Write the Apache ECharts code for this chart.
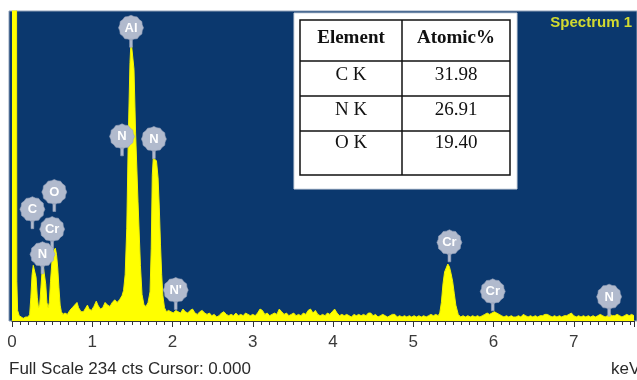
<!DOCTYPE html>
<html>
<head>
<meta charset="utf-8">
<script src="https://cdn.jsdelivr.net/npm/echarts@6/dist/echarts.min.js"></script>
<style>
html,body{margin:0;padding:0;background:#ffffff;}
#chart{width:637px;height:380px;}
</style>
</head>
<body>
<div id="chart"></div>
<script>
// ---- data ----
const xTicks = [0, 1, 2, 3, 4, 5, 6, 7];
const spectrumKeV = [
0.00,0.055,0.06,0.07,0.09,0.11,0.14,0.17,0.20,0.22,
0.235,0.25,0.265,0.285,0.30,0.315,0.33,0.345,
0.36,0.375,0.39,0.405,0.42,0.435,0.45,0.465,
0.48,0.50,0.52,0.54,0.555,0.57,0.585,0.60,0.615,0.635,0.66,0.69,0.72,0.75,0.78,0.81,0.83,0.86,0.89,0.92,0.94,0.96,0.99,1.02,1.05,1.07,1.10,1.13,1.16,1.19,1.22,1.25,1.28,1.31,1.34,1.37,1.39,1.41,
1.43,1.45,1.47,1.483,1.507,1.52,1.54,1.57,1.60,1.62,1.645,1.67,1.695,1.72,
1.735,1.748,1.76,1.78,1.80,1.82,1.835,1.85,1.865,1.88,1.90,1.925,1.95,1.98,2.01,2.04,2.07,2.10,2.13,2.16,2.19,2.22,2.25,2.28,2.31,2.34,2.37,2.40,2.43,2.46,2.49,2.52,2.55,2.58,2.61,2.64,2.67,2.70,2.73,2.76,2.79,2.82,2.85,2.88,2.91,2.94,2.97,3.00,3.03,3.06,3.09,3.12,3.15,3.18,3.21,3.24,3.27,3.30,3.33,3.36,3.39,3.42,3.45,3.48,3.51,3.54,3.57,3.60,3.63,3.66,3.69,3.72,3.75,3.78,3.81,3.84,3.87,3.90,3.93,3.96,3.99,4.02,4.05,4.08,4.11,4.14,4.17,4.20,4.23,4.26,4.29,4.32,4.35,4.38,4.41,4.44,4.47,4.50,4.53,4.56,4.59,4.62,4.65,4.68,4.71,4.74,4.77,4.80,4.83,4.86,4.89,4.92,4.95,4.98,5.01,5.04,5.07,5.10,5.13,5.16,5.19,5.22,5.25,5.28,5.31,
5.33,5.35,5.37,5.39,5.41,5.43,5.45,5.47,5.49,5.51,5.53,5.56,5.59,5.62,5.65,5.68,5.71,5.74,5.77,5.80,5.83,5.86,5.89,5.92,5.95,5.98,6.01,6.04,6.07,6.10,6.13,6.16,6.19,6.22,6.25,6.28,6.31,6.34,6.37,6.40,6.43,6.46,6.49,6.52,6.55,6.58,6.61,6.64,6.67,6.70,6.73,6.76,6.79,6.82,6.85,6.88,6.91,6.94,6.97,7.00,7.03,7.06,7.09,7.12,7.15,7.18,7.21,7.24,7.27,7.30,7.33,7.36,7.39,7.42,7.45,7.48,7.51,7.54,7.57,7.60,7.63,7.66,7.69,7.72,7.75
];
const spectrumCounts = [
400,400,30,8,4,3,2,3,3,5,
18,35,42,43,33,18,10,12,
25,38,41,40,28,14,10,14,
30,47,53,55,50,40,25,12,7,5,6,5,8,10,12,14,10,7,7,10,12,9,8,11,15,12,9,10,14,12,11,14,16,14,16,19,23,35,
70,142,195,212,213,190,142,90,42,20,12,11,14,22,
55,110,123,123,121,108,86,58,35,19,10,7,8,7,6,8,7,6,9,7,6,8,9,6,5,7,8,6,5,6,4,5,3,4,6,7,5,4,5,4,6,4,5,4,6,5,4,5,4,6,9,8,5,6,4,5,6,5,9,7,5,6,4,5,6,4,5,4,6,5,8,9,6,8,5,4,5,4,6,5,7,9,6,4,5,4,5,4,3,5,4,5,4,5,4,6,6,4,5,3,4,5,4,3,4,5,5,3,4,3,4,3,4,3,4,3,4,3,4,3,4,5,4,5,4,
6,14,28,37,40,43,41,36,30,21,12,5,3,4,3,4,3,4,3,4,3,4,5,6,5,6,7,6,5,4,3,4,3,4,3,3,4,3,5,4,3,4,3,4,3,4,4,5,5,4,3,4,3,4,3,4,4,5,6,4,3,4,3,4,3,4,3,4,3,4,5,4,3,4,5,4,4,5,4,3,4,5,4,5,4
];
const peakNames = ['Al', 'N', 'N', 'C', 'O', 'Cr', 'N', "N'", 'Cr', 'Cr', 'N'];
const peakKeV   = [1.483, 1.371, 1.768, 0.254, 0.527, 0.50, 0.38, 2.04, 5.45, 5.99, 7.44];
const peakLabelCounts = [221, 139, 137, 84, 97, 69, 50, 23, 59, 22, 18];
const tableHeaders = ['Element', 'Atomic%'];
const tableElements = ['C K', 'N K', 'O K'];
const tableValues = ['31.98', '26.91', '19.40'];
const spectrumTitle = 'Spectrum 1';
const footerText = 'Full Scale 234 cts Cursor: 0.000';
const unitText = 'keV';
const yFullScale = 234;

// ---- styling helpers ----
function gearPath() {
  const n = 12, pts = [];
  for (let i = 0; i < n * 2; i++) {
    const a = i * Math.PI / n;
    const r = (i % 2 === 0) ? 11 : 10.2;
    pts.push((r * Math.cos(a)).toFixed(3) + ',' + (r * Math.sin(a)).toFixed(3));
  }
  return 'path://M' + pts.join(' L') + ' Z M-1.2,10 L1.2,10 L1.2,17 L-1.2,17 Z';
}

const spectrumData = spectrumKeV.map((k, i) => [k, spectrumCounts[i]]);
const labelData = peakNames.map((n, i) => ({ name: n, value: [peakKeV[i], peakLabelCounts[i]] }));

const PL = 9, PT = 11, PR = 637, PB = 321;
const tx = 294, ty = 13, tw = 223, th = 176;
const ix = 300, iy = 20, iw = 210, ih = 155, colX = 402;
const rowLines = [61, 96, 131];
const rowCenters = [75, 110, 143];
const serif = '"Liberation Serif","DejaVu Serif",serif';
const sans = '"Liberation Sans",Arial,sans-serif';

const tableChildren = [
  { type: 'rect', shape: { x: tx, y: ty, width: tw, height: th }, style: { fill: '#ffffff', stroke: '#cfd6e0', lineWidth: 1 } },
  { type: 'rect', shape: { x: ix, y: iy, width: iw, height: ih }, style: { fill: 'none', stroke: '#111111', lineWidth: 1.5 } },
  { type: 'line', shape: { x1: colX, y1: iy, x2: colX, y2: iy + ih }, style: { stroke: '#111111', lineWidth: 1.5 } }
];
rowLines.forEach(y => tableChildren.push({ type: 'line', shape: { x1: ix, y1: y, x2: ix + iw, y2: y }, style: { stroke: '#111111', lineWidth: 1.5 } }));
tableChildren.push({ type: 'text', style: { x: (ix + colX) / 2, y: 38, text: tableHeaders[0], fill: '#111', font: 'bold 19px ' + serif, textAlign: 'center', textVerticalAlign: 'middle' } });
tableChildren.push({ type: 'text', style: { x: (colX + ix + iw) / 2, y: 38, text: tableHeaders[1], fill: '#111', font: 'bold 19px ' + serif, textAlign: 'center', textVerticalAlign: 'middle' } });
tableElements.forEach((e, i) => {
  tableChildren.push({ type: 'text', style: { x: (ix + colX) / 2, y: rowCenters[i], text: e, fill: '#111', font: '19px ' + serif, textAlign: 'center', textVerticalAlign: 'middle' } });
  tableChildren.push({ type: 'text', style: { x: (colX + ix + iw) / 2, y: rowCenters[i], text: tableValues[i], fill: '#111', font: '19px ' + serif, textAlign: 'center', textVerticalAlign: 'middle' } });
});

const chart = echarts.init(document.getElementById('chart'), null, { renderer: 'canvas' });
chart.setOption({
  animation: false,
  backgroundColor: '#ffffff',
  grid: { left: 12, right: 0, top: PT, bottom: 380 - PB, containLabel: false },
  xAxis: {
    type: 'value', min: 0, max: 7.75, interval: 1,
    axisLine: { show: true, lineStyle: { color: '#333333', width: 1 } },
    axisTick: { show: true, length: 6, lineStyle: { color: '#333333' } },
    minorTick: { show: true, splitNumber: 10, length: 4, lineStyle: { color: '#333333' } },
    splitLine: { show: false },
    axisLabel: { color: '#3a3a3a', fontSize: 17, fontFamily: sans, margin: 13,
      formatter: v => (xTicks.indexOf(v) >= 0 ? String(v) : '') }
  },
  yAxis: { type: 'value', min: 0, max: yFullScale, show: false },
  graphic: [
    { type: 'rect', z: -10, shape: { x: PL, y: PT, width: PR - PL, height: PB - PT }, style: { fill: '#0b386e', stroke: '#8fa0b8', lineWidth: 1 } },
    { type: 'group', z: 100, children: tableChildren },
    { type: 'text', z: 100, style: { x: 632, y: 23, text: spectrumTitle, fill: '#d2da30', font: 'bold 15px ' + sans, textAlign: 'right', textVerticalAlign: 'middle' } },
    { type: 'text', z: 100, style: { x: 9, y: 369, text: footerText, fill: '#2a2a2a', font: '17px ' + sans, textAlign: 'left', textVerticalAlign: 'middle' } },
    { type: 'text', z: 100, style: { x: 611, y: 369, text: unitText, fill: '#2a2a2a', font: '17px ' + sans, textAlign: 'left', textVerticalAlign: 'middle' } }
  ],
  series: [
    {
      type: 'line', data: spectrumData, showSymbol: false, smooth: false, clip: true, z: 3,
      lineStyle: { color: '#f2f200', width: 1 },
      areaStyle: { color: '#ffff00', opacity: 1 }
    },
    {
      type: 'scatter', data: labelData, z: 5,
      symbol: gearPath(), symbolSize: [25, 32], symbolKeepAspect: false, symbolOffset: [0, 3],
      itemStyle: { color: '#b1bacd', borderColor: '#96a2ba', borderWidth: 0.6, opacity: 1 },
      label: { show: true, position: 'inside', offset: [0, -3], formatter: '{b}', color: '#ffffff', fontSize: 13, fontWeight: 'bold', fontFamily: sans },
      silent: true
    }
  ]
});
</script>
</body>
</html>
